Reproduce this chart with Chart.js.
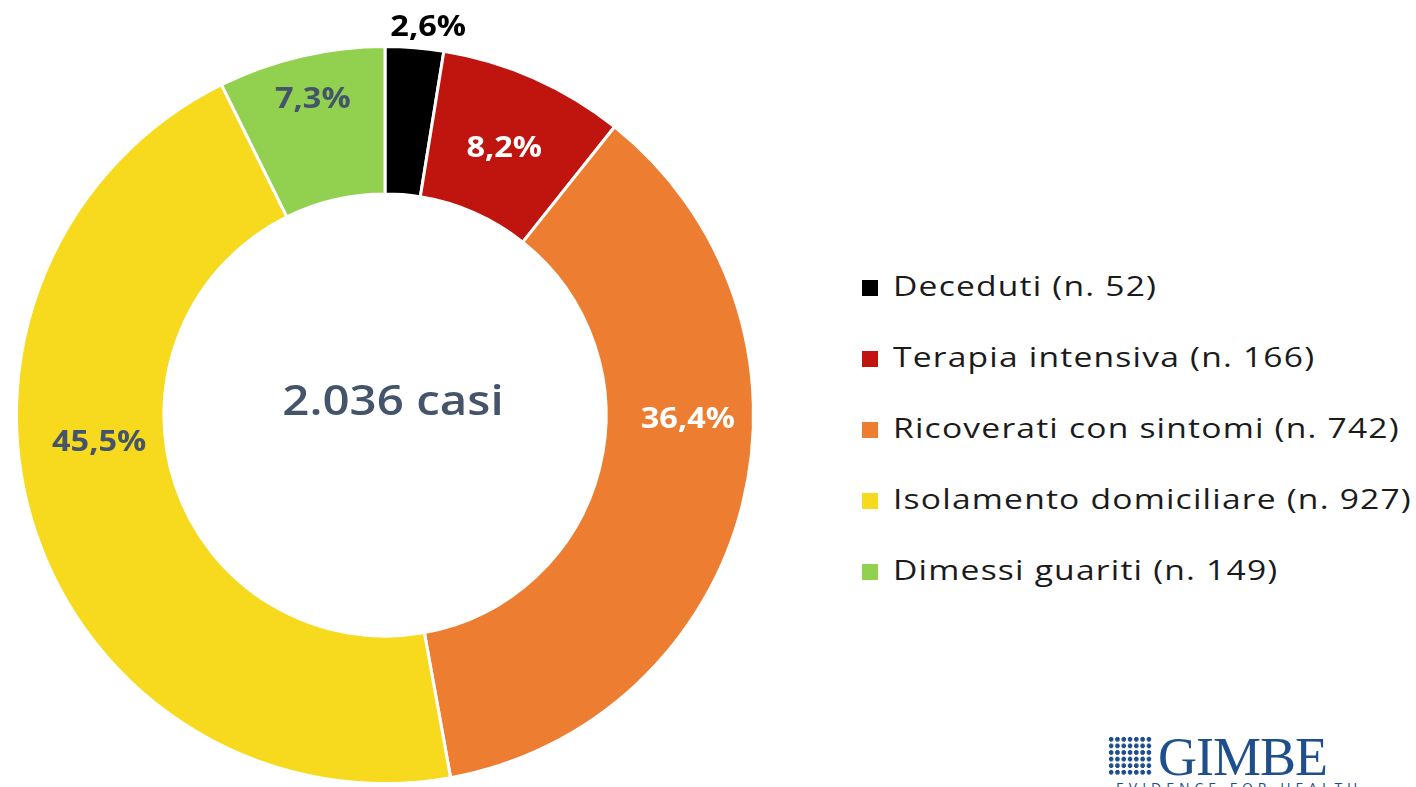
<!DOCTYPE html>
<html lang="it">
<head>
<meta charset="utf-8">
<title>Casi COVID-19</title>
<script src="https://cdn.jsdelivr.net/npm/chart.js@4.4.1/dist/chart.umd.min.js"></script>
<style>
  html, body { margin: 0; padding: 0; background: #fff; }
  body { width: 1416px; height: 787px; position: relative; overflow: hidden; font-family: "Open Sans", Lato, sans-serif; }
  #wrap { position: absolute; left: 0; top: 0; width: 800px; height: 787px; }
  #center { position: absolute; left: 193px; top: 378px; width: 400px; text-align: center;
    font-size: 42px; font-weight: 600; color: #44546a; line-height: 1; transform: scaleX(1.13); }
  #legend { position: absolute; left: 862px; top: 268px; list-style: none; margin: 0; padding: 0; }
  #legend li { height: 71px; font-size: 28px; letter-spacing: 1px; color: #1b1b1b; display: flex; align-items: flex-start; line-height: 1.25; white-space: nowrap; }
  #legend .box { width: 16px; height: 16px; margin: 12px 15px 0 0; flex: none; }
  #legend .txt { display: inline-block; transform: scaleX(1.2); transform-origin: left center; }
  #logo { position: absolute; left: 1108px; top: 730px; color: #1f4e8c; }
  #logo .grid { position: absolute; left: 0; top: 6px; width: 44px; height: 40px;
    background-image: radial-gradient(circle, #1f4e8c 2.2px, transparent 2.6px);
    background-size: 6.3px 6.6px; }
  #logo .name { position: absolute; left: 50px; top: -4px; font-family: "Liberation Serif", "DejaVu Serif", serif;
    font-size: 54px; letter-spacing: -1px; white-space: nowrap; }
  #logo .tag { position: absolute; left: 8px; top: 48px; font-size: 14px; letter-spacing: 5px; white-space: nowrap; }
</style>
</head>
<body>
<div id="wrap"><canvas id="donut"></canvas></div>
<div id="center">2.036 casi</div>
<ul id="legend"></ul>
<div id="logo"><div class="grid"></div><div class="name">GIMBE</div><div class="tag">EVIDENCE FOR HEALTH</div></div>
<script>
  // Data
  const categories = ['Deceduti', 'Terapia intensiva', 'Ricoverati con sintomi', 'Isolamento domiciliare', 'Dimessi guariti'];
  const counts = [52, 166, 742, 927, 149];
  const percentLabels = ['2,6%', '8,2%', '36,4%', '45,5%', '7,3%'];

  const sliceColors = ['#000000', '#c0150f', '#ed7d31', '#f7d91d', '#92d050'];
  const labelColors = ['#000000', '#ffffff', '#ffffff', '#44546a', '#44546a'];

  // Percentage labels, drawn at each arc's middle (the first one sits outside)
  const sliceLabels = {
    id: 'sliceLabels',
    afterDatasetsDraw(chart, args, opts) {
      const ctx = chart.ctx;
      const meta = chart.getDatasetMeta(0);
      meta.data.forEach((arc, i) => {
        const p = arc.getProps(['x', 'y', 'startAngle', 'endAngle', 'innerRadius', 'outerRadius']);
        const mid = (p.startAngle + p.endAngle) / 2;
        const r = opts.outside[i] ? p.outerRadius + 20 : (p.innerRadius + p.outerRadius) / 2;
        const off = opts.offsets[i] || [0, 0];
        const x = p.x + Math.cos(mid) * r + off[0];
        const y = p.y + Math.sin(mid) * r + off[1];
        ctx.save();
        ctx.translate(x, y);
        ctx.scale(opts.stretch, 1);
        ctx.font = opts.font;
        ctx.textAlign = 'center';
        ctx.textBaseline = 'middle';
        ctx.fillStyle = opts.colors[i];
        ctx.fillText(percentLabels[i], 0, 0);
        ctx.restore();
      });
    }
  };

  const ctx = document.getElementById('donut').getContext('2d');
  new Chart(ctx, {
    type: 'doughnut',
    data: {
      labels: categories,
      datasets: [{
        data: counts,
        backgroundColor: sliceColors,
        borderColor: '#ffffff',
        borderWidth: 3
      }]
    },
    options: {
      responsive: true,
      maintainAspectRatio: false,
      animation: false,
      cutout: '60%',
      layout: { padding: { left: 15, right: 45, top: 45, bottom: 2 } },
      events: [],
      plugins: {
        legend: { display: false },
        tooltip: { enabled: false },
        sliceLabels: {
          font: 'bold 28px "Open Sans", Lato, sans-serif',
          stretch: 1.16,
          colors: labelColors,
          outside: [true, false, false, false, false],
          offsets: [[12, 0], [0, 4], [17, -67], [-6, -65], [-5, -28]]
        }
      }
    },
    plugins: [sliceLabels]
  });

  // Legend built from the same arrays
  const legend = document.getElementById('legend');
  categories.forEach((cat, i) => {
    const li = document.createElement('li');
    li.innerHTML = `<span class="box" style="background:${sliceColors[i]}"></span><span class="txt">${cat} (n. ${counts[i]})</span>`;
    legend.appendChild(li);
  });
</script>
</body>
</html>
